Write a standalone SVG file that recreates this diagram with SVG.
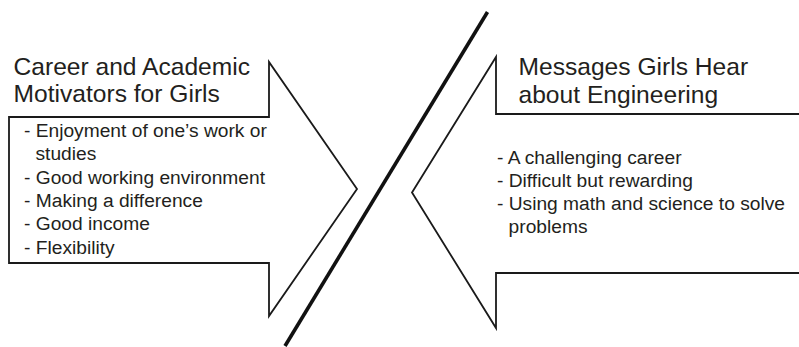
<svg xmlns="http://www.w3.org/2000/svg" width="799" height="347" viewBox="0 0 799 347">
  <style>
    .arrow { fill: #ffffff; stroke: #1a1a1a; stroke-width: 1.8; stroke-linejoin: miter; }
    .title { font-family: "Liberation Sans", Arial, sans-serif; font-size: 24.6px; fill: #231f20; }
    .item { font-family: "Liberation Sans", Arial, sans-serif; font-size: 19.2px; fill: #231f20; }
    .divider { stroke: #111111; stroke-width: 3.6; stroke-linecap: butt; }
  </style>
  <rect width="799" height="347" fill="#ffffff"/>

  <!-- Left block arrow pointing right -->
  <g id="motivators">
    <polygon class="arrow" points="9,117 269,117 269,62 357,189 269,316 269,263 9,263"/>
    <text class="title" x="13.5" y="75">Career and Academic</text>
    <text class="title" x="13.5" y="102">Motivators for Girls</text>
    <text class="item" x="24" y="137">- Enjoyment of one’s work or</text>
    <text class="item" x="35.5" y="160.3">studies</text>
    <text class="item" x="24" y="183.6">- Good working environment</text>
    <text class="item" x="24" y="206.9">- Making a difference</text>
    <text class="item" x="24" y="230.2">- Good income</text>
    <text class="item" x="24" y="253.5">- Flexibility</text>
  </g>

  <!-- Right block arrow pointing left, open past the right edge -->
  <g id="messages">
    <polygon class="arrow" points="805,114 496,114 496,57 412,192.5 496,328 496,273 805,273"/>
    <text class="title" x="518.5" y="75">Messages Girls Hear</text>
    <text class="title" x="518.5" y="103">about Engineering</text>
    <text class="item" x="497" y="164">- A challenging career</text>
    <text class="item" x="497" y="187">- Difficult but rewarding</text>
    <text class="item" x="497" y="210">- Using math and science to solve</text>
    <text class="item" x="508.6" y="233">problems</text>
  </g>

  <!-- Slash dividing the two arrows -->
  <g id="connectors">
    <line class="divider" x1="487.5" y1="12" x2="285" y2="346"/>
  </g>
</svg>
